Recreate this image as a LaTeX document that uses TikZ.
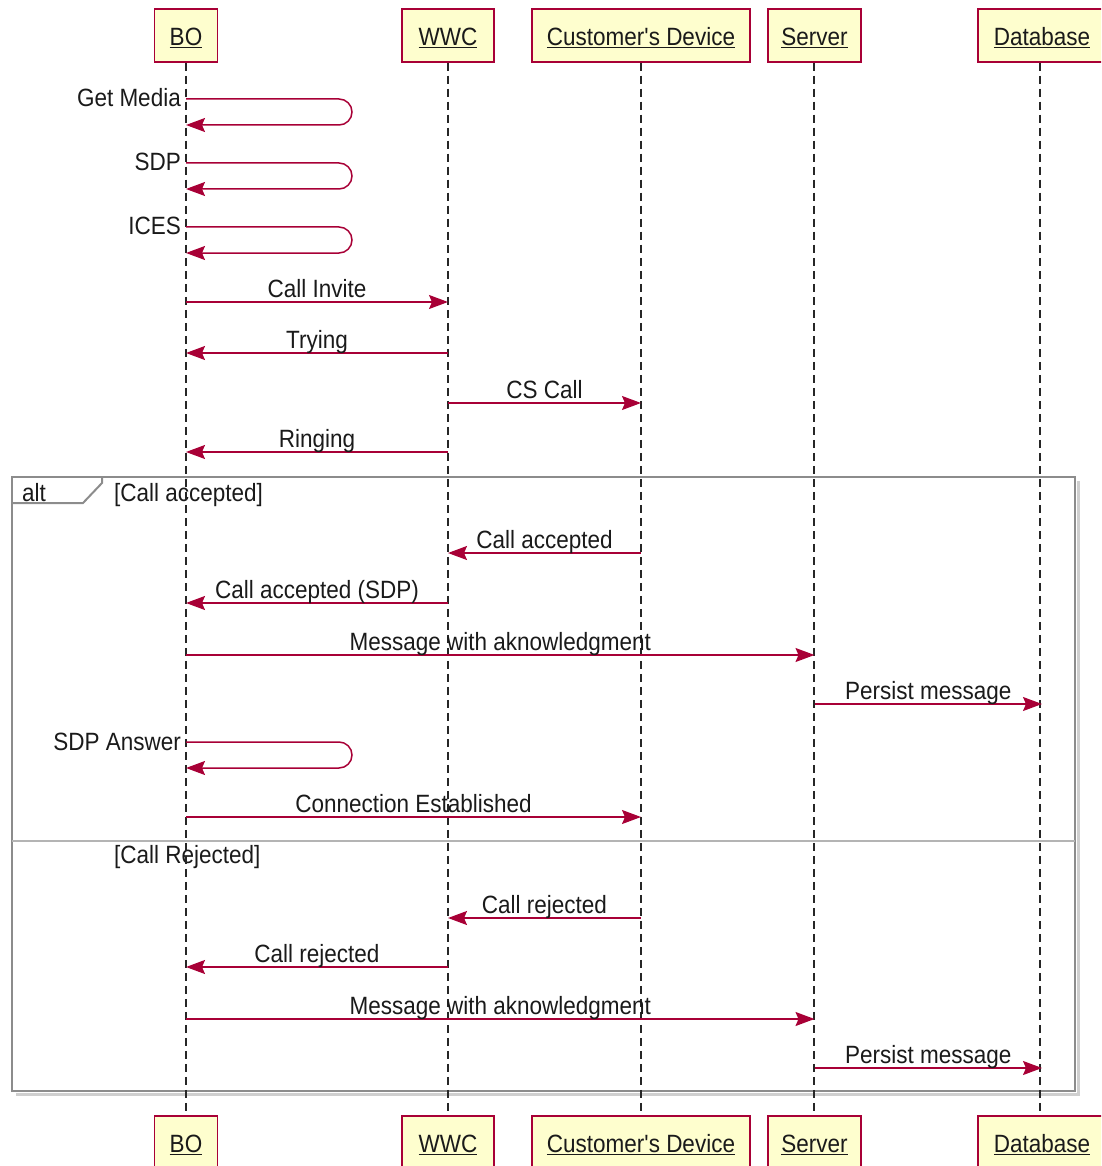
\documentclass[tikz,border=0pt]{standalone}
\usepackage{fontspec}
\setmainfont{Liberation Sans}[FakeStretch=0.9, Ligatures=TeXOff]
\usetikzlibrary{arrows.meta,calc}

\definecolor{seqred}{HTML}{A80036}
\definecolor{partfill}{HTML}{FEFECE}
\definecolor{framegray}{HTML}{8C8C8C}
\definecolor{shadowgray}{HTML}{CFCFCF}
\definecolor{sepgray}{HTML}{B4B4B4}
\definecolor{inkc}{HTML}{1A1A1A}

\tikzset{
  part/.style={draw=seqred, fill=partfill, line width=1.5pt, inner sep=0pt,
    minimum height=53pt, text=inkc, text depth=0pt},
  life/.style={draw=black!85, line width=1.6pt, dash pattern=on 8pt off 5pt},
  msg/.style={draw=seqred, line width=1.5pt,
    -{Stealth[length=19pt, width=14pt, inset=3pt, fill=seqred]}},
  lbl/.style={anchor=base, yshift=5pt, inner sep=0pt, text=inkc},
  selflbl/.style={anchor=base east, inner sep=0pt, text=inkc},
  grouplbl/.style={anchor=base west, inner sep=0pt, text=inkc},
}

% message between two lifelines at height #3
\newcommand\seqmsg[4]{%
  \draw[msg] (#1 |- 0,#3) -- node[lbl, midway]{#4} (#2 |- 0,#3);}
% self message on the BO lifeline: out at #1, back at #2
\newcommand\seqself[4]{%
  \coordinate (#4) at (boT |- 0,#1);
  \draw[msg, rounded corners=13pt] (#4) -- (352,#1) -- (352,#2) -- (boT |- 0,#2);
  \node[selflbl] (#4-l) at ([xshift=-5pt, yshift=-8pt]#4) {#3};}
% underlined participant name, sitting a little low in its box
\newcommand\pname[1]{\raisebox{-2pt}{\underline{#1}}}

\begin{document}
\begin{tikzpicture}[x=1pt, y=-1pt, font=\fontsize{25}{30}\selectfont]
\useasboundingbox (0,0) rectangle (1101,1166);
\clip (0,0) rectangle (1101,1166);

% participants, top row
\node[part, minimum width=63pt]  (boT)  at (186,35.5)  {\pname{BO}};
\node[part, minimum width=92pt]  (wwcT) at (448,35.5)  {\pname{WWC}};
\node[part, minimum width=218pt] (cdT)  at (641,35.5)  {\pname{Customer's Device}};
\node[part, minimum width=93pt]  (srvT) at (814.5,35.5){\pname{Server}};
\node[part, minimum width=128pt] (dbT)  at (1042,35.5) {\pname{Database}};

% participants, bottom row
\node[part, minimum width=63pt]  (boB)  at (186,1142.5)  {\pname{BO}};
\node[part, minimum width=92pt]  (wwcB) at (448,1142.5)  {\pname{WWC}};
\node[part, minimum width=218pt] (cdB)  at (641,1142.5)  {\pname{Customer's Device}};
\node[part, minimum width=93pt]  (srvB) at (814.5,1142.5){\pname{Server}};
\node[part, minimum width=128pt] (dbB)  at (1042,1142.5) {\pname{Database}};

% alt frame with shadow
\draw[shadowgray, line width=3pt] (1078.5,481) -- (1078.5,1094.5) -- (16,1094.5);
\draw[framegray, line width=2pt] (12,477) rectangle (1075,1091);
\draw[framegray, line width=2pt] (12,503) -- (83,503) -- (102,483) -- (102,477);
\draw[sepgray, line width=2pt] (12,841) -- (1075,841);
\node[grouplbl] (altl) at (22,501) {alt};
\node[grouplbl] (g1) at (114,501) {[Call accepted]};
\node[grouplbl] (g2) at (114,863) {[Call Rejected]};

% lifelines
\draw[life] (boT.south) -- (boB.north);
\draw[life] (wwcT.south) -- (wwcB.north);
\draw[life] (cdT.south) -- (cdB.north);
\draw[life] ([xshift=-0.5pt]srvT.south) -- ([xshift=-0.5pt]srvB.north);
\draw[life] ([xshift=-2pt]dbT.south) -- ([xshift=-2pt]dbB.north);

% messages
\seqself{99}{125}{Get Media}{s1}
\seqself{163}{189}{SDP}{s2}
\seqself{227}{253}{ICES}{s3}
\seqmsg{boT}{wwcT}{302}{Call Invite}
\seqmsg{wwcT}{boT}{353}{Trying}
\seqmsg{wwcT}{cdT}{403}{CS Call}
\seqmsg{wwcT}{boT}{452}{Ringing}

\seqmsg{cdT}{wwcT}{553}{Call accepted}
\seqmsg{wwcT}{boT}{603}{Call accepted (SDP)}
\seqmsg{boT}{srvT}{655}{Message with aknowledgment}
\seqmsg{srvT}{dbT}{704}{Persist message}
\seqself{742}{768}{SDP Answer}{s4}
\seqmsg{boT}{cdT}{817}{Connection Established}

\seqmsg{cdT}{wwcT}{918}{Call rejected}
\seqmsg{wwcT}{boT}{967}{Call rejected}
\seqmsg{boT}{srvT}{1019}{Message with aknowledgment}
\seqmsg{srvT}{dbT}{1068}{Persist message}
\end{tikzpicture}
\end{document}
